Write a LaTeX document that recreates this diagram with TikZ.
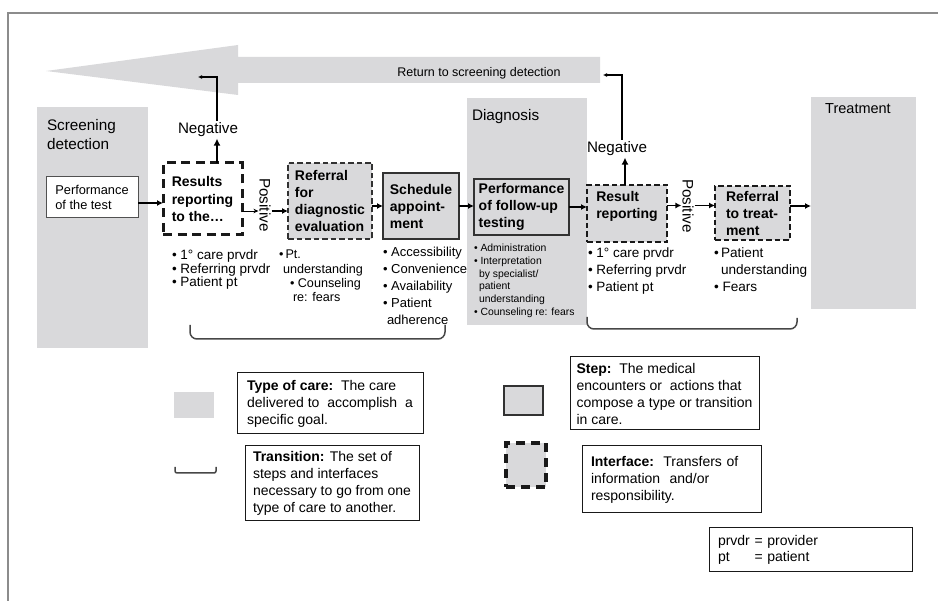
\documentclass[tikz,border=0pt]{standalone}
\usepackage{fontspec}
\setmainfont{Liberation Sans}
\usetikzlibrary{arrows.meta,calc}
\definecolor{cgray}{RGB}{217,217,219}
\definecolor{frameg}{RGB}{140,140,140}
\definecolor{dk}{RGB}{50,50,50}
\newcommand{\fsz}[2]{\fontsize{#1}{#2}\selectfont}
\begin{document}
\begin{tikzpicture}[x=1pt,y=-1pt,
  every node/.style={inner sep=0pt,outer sep=0pt},
  care/.style={fill=cgray,draw=none},
  caretext/.style={anchor=north west,align=left,font=\fsz{15.3}{19}},
  stepbox/.style={fill=cgray,draw=dk,line width=1.2pt,align=left,font=\fsz{14}{17}\bfseries},
  testbox/.style={fill=white,draw=dk!85,line width=1pt,align=left,font=\fsz{12.8}{15}},
  ifwide/.style={fill=white,draw=black!90,line width=3pt,dash pattern=on 9pt off 5.5pt,align=left,font=\fsz{14}{17.5}\bfseries},
  iffine/.style={fill=cgray,draw=dk,line width=2.2pt,dash pattern=on 5.5pt off 3pt,align=left,font=\fsz{14}{17}\bfseries},
  ifmed/.style={fill=cgray,draw=black!90,line width=2.4pt,dash pattern=on 5.5pt off 3pt,align=left,font=\fsz{14}{17}\bfseries},
  conn/.style={line width=1.8pt,-{Latex[length=6pt,width=6pt]}},
  negconn/.style={line width=2.6pt,-{Latex[length=7pt,width=7pt]}},
  retconn/.style={line width=1.3pt,-{Latex[length=4pt,width=4pt]}},
  openconn/.style={line width=0.9pt,-{Stealth[open,length=5pt,width=4.5pt]}},
  bul/.style={anchor=north west,align=left},
  brace/.style={draw=dk!90,line width=1.5pt,rounded corners=7pt},
  legbox/.style={draw=black!90,line width=1pt,fill=white,align=left,font=\fsz{14}{17}},
  lbl/.style={font=\fsz{15.2}{15.2}}
]
\useasboundingbox (0,0) rectangle (938,601);
% outer frame
\draw[frameg,line width=2pt] (8,601) -- (8,13) -- (938,13);

% big return arrow
\fill[cgray] (46,71) -- (238,45) -- (238,57) -- (600,57) -- (600,83) -- (238,83) -- (238,95) -- cycle;
\node[font=\fsz{12.5}{12.5}] (rettxt) at (479,73) {Return to screening detection};

% types of care
\node[care,minimum width=111pt,minimum height=241pt] (screen) at (92.5,227.5) {};
\node[caretext] (screenlbl) at (47,119.5) {Screening\\detection};
\node[care,minimum width=120pt,minimum height=227pt] (diag) at (527,211.5) {};
\node[caretext] (diaglbl) at (472,109.5) {Diagnosis};
\node[care,minimum width=105pt,minimum height=212pt] (treat) at (863.5,203) {};
\node[font=\fsz{14.5}{14.5}] (treatlbl) at (858,109) {Treatment};

% steps and interfaces
\node[testbox,minimum width=92pt,minimum height=41pt] (perf) at (92,197.5) {Performance\\of the test};
\node[ifwide,minimum width=79pt,minimum height=72pt] (results) at (202.5,199) {Results\\reporting\\to the…};
\node[iffine,minimum width=84pt,minimum height=76pt] (refdiag) at (330,201) {Referral\\for\\diagnostic\\evaluation};
\node[stepbox,minimum width=76pt,minimum height=66pt] (sched) at (421,206) {Schedule\\appoint-\\ment};
\node[stepbox,minimum width=95pt,minimum height=56pt] (perf2) at (521.5,207) {Performance\\of follow-up\\testing};
\node[ifmed,minimum width=80pt,minimum height=57pt] (resrep) at (627,213.5) {Result\\reporting\\\mbox{}};
\node[ifmed,minimum width=75pt,minimum height=54pt] (reftreat) at (752.5,213) {Referral\\to~treat-\\ment};

% labels
\node[lbl] (neg1) at (208,130) {Negative};
\node[lbl] (neg2) at (617,149) {Negative};
\node[lbl,rotate=-90] (pos1) at (265,205) {Positive};
\node[lbl,rotate=-90] (pos2) at (688,206) {Positive};

% connectors
\coordinate (pa) at ($(perf.east)+(0,5.5)$);
\draw[conn] (pa) -- (pa -| results.west);
\coordinate (ra) at ($(results.east)+(0,12)$);
\draw[openconn] (ra) -- ($(ra -| pos1.south)+(-1,0)$);
\draw[conn] ($(ra -| pos1.north)+(1,0)$) -- (ra -| refdiag.west);
\draw[conn] (refdiag.east |- sched.west) -- (sched.west);
\draw[conn] (sched.east) -- (sched.east -| perf2.west);
\draw[conn] (perf2.east) -- (perf2.east -| resrep.west);
\coordinate (rb) at ($(resrep.east)+(0,-8)$);
\draw[conn] (rb) -- ($(rb -| pos2.south)+(-1,0)$);
\draw[conn] ($(rb -| pos2.north)+(1,0)$) -- (rb -| reftreat.west);
\coordinate (rc) at ($(reftreat.east)+(0,-7)$);
\draw[conn] (rc) -- (rc -| treat.west);

% negative branches
\coordinate (n1b) at ($(neg1.south)+(9,1.5)$);
\draw[negconn] (n1b |- results.north) -- (n1b);
\coordinate (n1t) at ($(neg1.north)+(9,-2)$);
\coordinate (ret1) at (198,77);
\draw[retconn] (n1t) |- (ret1);
\coordinate (n2b) at ($(neg2.south)+(8,1.5)$);
\draw[negconn] (n2b |- resrep.north) -- (n2b);
\coordinate (n2t) at ($(neg2.north)+(5,-2)$);
\coordinate (ret2) at (603,75);
\draw[retconn] (n2t) |- (ret2);

% bullet lists
\node[bul,font=\fsz{13.5}{13.5}] (bA) at (172,250) {• 1° care prvdr\\• Referring prvdr\\• Patient pt};
\node[bul,font=\fsz{12.6}{14.3}] (bB) at (279,250.3) {•\,Pt.\\\hspace*{4pt}understanding\\\hspace*{11pt}• Counseling\\\hspace*{14pt}re: fears};
\node[bul,font=\fsz{13}{17}] (bC) at (383,247) {• Accessibility\\• Convenience\\• Availability\\• Patient\\\hspace*{4pt}adherence};
\node[bul,font=\fsz{10.4}{12.8}] (bD) at (474,244) {• Administration\\• Interpretation\\\hspace*{5pt}by specialist/\\\hspace*{5pt}patient\\\hspace*{5pt}understanding\\• Counseling re: fears};
\node[bul,font=\fsz{13.5}{17}] (bE) at (588,248) {• 1° care prvdr\\• Referring prvdr\\• Patient pt};
\node[bul,font=\fsz{13.6}{17}] (bF) at (714,248) {•\,Patient\\\hspace*{7pt}understanding\\• Fears};

% transition braces
\draw[brace] (190,325) -- (190,339) -- (445,339) -- (445,325);
\draw[brace] (587,317) -- (587,329) -- (797,329) -- (797,318);

% legend
\node[care,minimum width=40pt,minimum height=26pt] (lgcare) at (194,405) {};
\draw[draw=dk!90,line width=1.5pt,rounded corners=2pt] (175,467) -- (175,473) -- (216,473) -- (216,467);
\node[draw=dk,line width=1.2pt,fill=cgray,minimum width=39pt,minimum height=29pt] (lgstep) at (523.5,400.5) {};
\node[fill=cgray,draw=black!90,line width=3.5pt,dash pattern=on 9pt off 6pt,minimum width=40pt,minimum height=44pt] (lgif) at (526,465) {};

\node[legbox,minimum width=186pt,minimum height=61pt] (lgtc) at (330,403.5)
  {\textbf{Type of care:}\ \ The care\\delivered to\ \ accomplish\ \ a\\specific goal.};
\node[legbox,minimum width=174pt,minimum height=75pt] (lgtr) at (332,483.5)
  {\textbf{Transition:} The set of\\steps and interfaces\\necessary to go from one\\type of care to another.};
\node[legbox,minimum width=189pt,minimum height=73pt] (lgst) at (664.5,393.5)
  {\textbf{Step:}\ \ The medical\\encounters or\ \ actions that\\compose a type or transition\\in care.};
\node[legbox,text width=161pt,inner xsep=9pt,minimum height=67pt] (lgin) at (671.5,479.5)
  {\textbf{Interface:}\ \ Transfers of\\information\ \ and/or\\responsibility.};
\node[legbox,text width=185pt,inner xsep=9pt,minimum height=44pt,font=\fsz{14}{16}] (lgab) at (810.5,550)
  {\begin{tabular}{@{}l@{\ }l@{}}prvdr&= provider\\pt&= patient\end{tabular}};
\end{tikzpicture}
\end{document}
